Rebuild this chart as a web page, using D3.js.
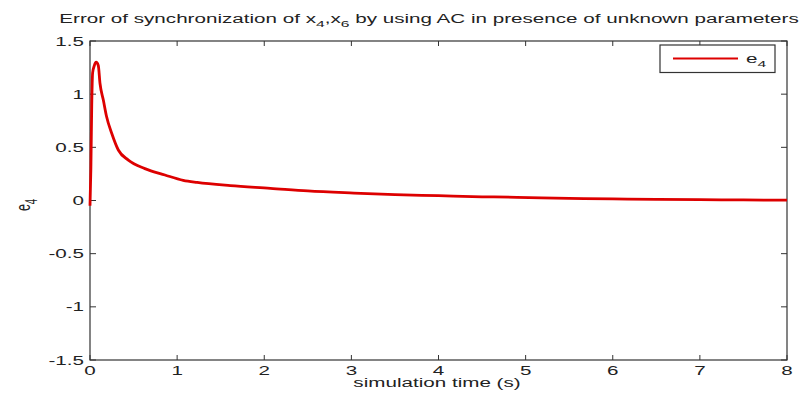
<!DOCTYPE html>
<html>
<head>
<meta charset="utf-8">
<title>e4</title>
<style>
  body { margin: 0; background: #fff; }
  text { font-family: "Liberation Sans", Arial, sans-serif; fill: #222; }
</style>
</head>
<body>
<script src="https://cdn.jsdelivr.net/npm/d3@7"></script>
<script>
// values
var time = [0, 0.01, 0.02, 0.03, 0.05, 0.07, 0.095, 0.115, 0.153, 0.19, 0.25, 0.325, 0.44, 0.63, 0.86, 1.07, 1.23, 1.61, 2.07, 2.5, 3.03, 3.5, 4.0, 4.5, 4.9, 5.5, 6.0, 6.5, 7.0, 7.5, 8.0];
var e4 = [-0.05, 0.3, 0.9, 1.2, 1.27, 1.30, 1.27, 1.10, 0.945, 0.79, 0.63, 0.475, 0.38, 0.30, 0.24, 0.19, 0.17, 0.14, 0.115, 0.09, 0.07, 0.055, 0.045, 0.035, 0.03, 0.02, 0.015, 0.01, 0.008, 0.005, 0.003];
var xTicks = [0, 1, 2, 3, 4, 5, 6, 7, 8];
var yTicks = [-1.5, -1, -0.5, 0, 0.5, 1, 1.5];

var width = 811, height = 399;
var pl = 90, pr = 787, pt = 41, pb = 360;
var sx = 1.65; // the picture is stretched sideways

var svg = d3.select("body").append("svg")
  .attr("width", width).attr("height", height);

var x = d3.scaleLinear().domain([0, 8]).range([pl, pr]);
var y = d3.scaleLinear().domain([-1.5, 1.5]).range([pb, pt]);

function label(px, py, anchor) {
  return svg.append("text")
    .attr("transform", "translate(" + px + "," + py + ") scale(" + sx + ",1)")
    .attr("text-anchor", anchor)
    .style("font-size", "12.5px");
}

// box
svg.append("rect")
  .attr("x", pl).attr("y", pt)
  .attr("width", pr - pl).attr("height", pb - pt)
  .attr("fill", "none").attr("stroke", "#333").attr("stroke-width", 1.2);

// ticks, inside on all four sides
xTicks.forEach(function(t) {
  svg.append("line").attr("x1", x(t)).attr("x2", x(t)).attr("y1", pb).attr("y2", pb - 5).attr("stroke", "#333");
  svg.append("line").attr("x1", x(t)).attr("x2", x(t)).attr("y1", pt).attr("y2", pt + 5).attr("stroke", "#333");
  label(x(t), 374.5, "middle").text(t);
});
yTicks.forEach(function(t) {
  svg.append("line").attr("x1", pl).attr("x2", pl + 6).attr("y1", y(t)).attr("y2", y(t)).attr("stroke", "#333");
  svg.append("line").attr("x1", pr).attr("x2", pr - 6).attr("y1", y(t)).attr("y2", y(t)).attr("stroke", "#333");
  label(84, y(t) + 4.5, "end").text(t);
});

// curve
var line = d3.line()
  .x(function(d, i) { return x(time[i]); })
  .y(function(d) { return y(d); })
  .curve(d3.curveMonotoneX);
svg.append("path")
  .datum(e4)
  .attr("d", line)
  .attr("fill", "none")
  .attr("stroke", "#dd0000")
  .attr("stroke-width", 2.8)
  .attr("stroke-linejoin", "round");

// title
var title = label(429, 23, "middle");
title.append("tspan").text("Error of synchronization of x");
title.append("tspan").attr("dy", 4).style("font-size", "9.5px").text("4");
title.append("tspan").attr("dy", -4).text(",x");
title.append("tspan").attr("dy", 4).style("font-size", "9.5px").text("6");
title.append("tspan").attr("dy", -4).text(" by using AC in presence of unknown parameters");

// axis labels
label(437, 387, "middle").text("simulation time (s)");
var yl = svg.append("text")
  .attr("transform", "translate(30,205) scale(" + sx + ",1) rotate(-90)")
  .attr("text-anchor", "middle")
  .style("font-size", "12.5px");
yl.append("tspan").text("e");
yl.append("tspan").attr("dy", 4).style("font-size", "9.5px").text("4");

// legend
svg.append("rect")
  .attr("x", 660).attr("y", 45).attr("width", 115).attr("height", 27.5)
  .attr("fill", "#fff").attr("stroke", "#333").attr("stroke-width", 1.2);
svg.append("line")
  .attr("x1", 673).attr("x2", 738).attr("y1", 58.5).attr("y2", 58.5)
  .attr("stroke", "#dd0000").attr("stroke-width", 2.2);
var lg = label(746, 63, "start");
lg.append("tspan").text("e");
lg.append("tspan").attr("dy", 4).style("font-size", "9.5px").text("4");
</script>
</body>
</html>
